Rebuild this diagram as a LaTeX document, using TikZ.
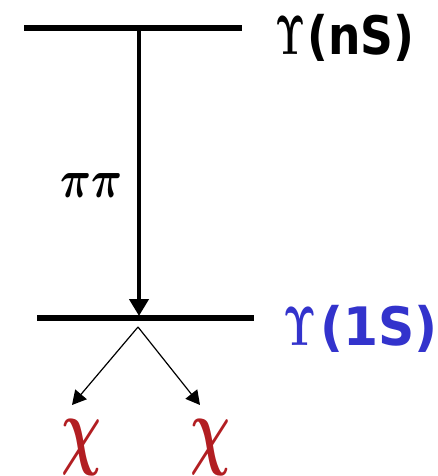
\documentclass[tikz,border=0pt]{standalone}
\usepackage{fontspec}
\usepackage{amsmath}
\usepackage{bm}
\usetikzlibrary{arrows.meta}
\newfontfamily\labfont{DejaVu Sans Bold}
\definecolor{upsblue}{RGB}{51,51,204}
\definecolor{chired}{RGB}{178,30,34}
\tikzset{
  level/.style={line width=5.5pt},
  bigarrow/.style={line width=4.5pt,-{Triangle[length=17pt,width=19pt]}},
  smallarrow/.style={line width=1.2pt,-{Triangle[length=14pt,width=15pt]}},
  lab/.style={inner sep=0pt,anchor=base west},
  chi/.style={inner sep=0pt,text=chired}
}
\begin{document}
\begin{tikzpicture}[x=1pt,y=-1pt]
\useasboundingbox (0,0) rectangle (438,476);
% levels
\coordinate (nL) at (24,28);
\coordinate (nR) at (242,28);
\coordinate (oL) at (37,318);
\coordinate (oR) at (254,318);
\draw[level] (nL) -- (nR);
\draw[level] (oL) -- (oR);
\coordinate (top) at (139,28);
\coordinate (bot) at (139,316);
\draw[bigarrow] (top) -- (bot);
% labels
\node[lab] (ns) at (275,55) {\resizebox{30pt}{38pt}{$\bm{\Upsilon}$}\hspace{2pt}\scalebox{0.86}[1]{\fontsize{53}{60}\labfont(nS)}};
\node[lab,text=upsblue] (s1) at (283,345) {\resizebox{33pt}{38pt}{$\bm{\Upsilon}$}\hspace{4pt}\scalebox{0.95}[1]{\fontsize{53}{60}\labfont(1S)}};
\node[lab] (pipi) at (60,197) {\resizebox{62pt}{24pt}{$\bm{\pi\pi}$}};
% chis
\node[chi] (c1) at (82,448) {\resizebox*{40pt}{56pt}{$\bm{\chi}$}};
\node[chi] (c2) at (210,448) {\resizebox*{40pt}{56pt}{$\bm{\chi}$}};
\coordinate (v) at (138,327);
\coordinate (e1) at (72,405);
\coordinate (e2) at (200,405);
\draw[smallarrow] (v) -- (e1);
\draw[smallarrow] (v) -- (e2);
\end{tikzpicture}
\end{document}
